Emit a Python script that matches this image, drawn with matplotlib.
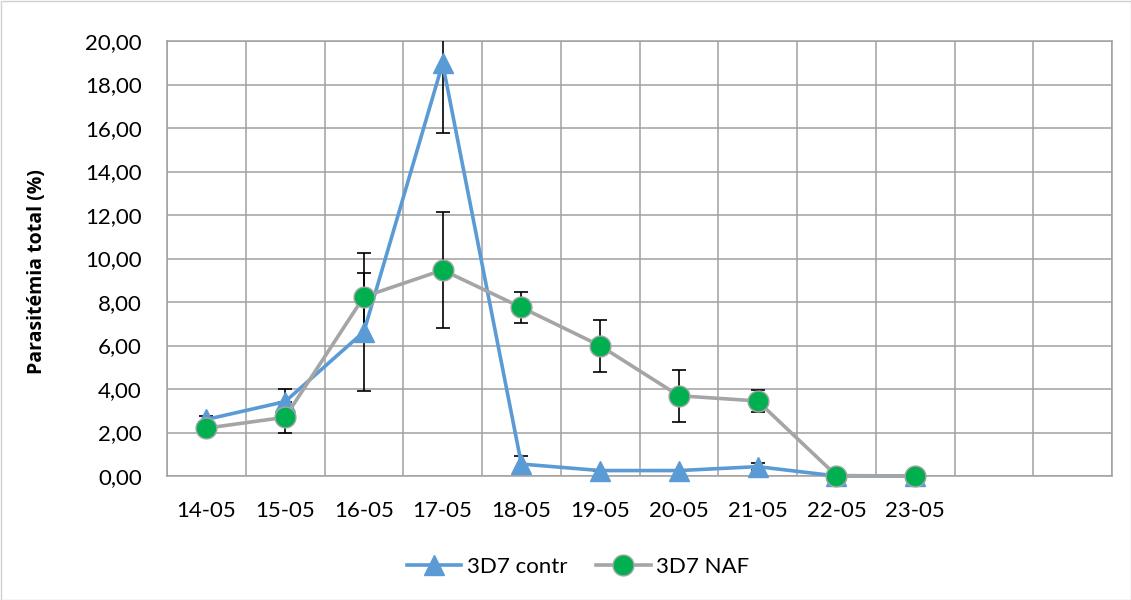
import matplotlib
matplotlib.use("Agg")
import matplotlib.pyplot as plt
from matplotlib.ticker import FuncFormatter, MultipleLocator
from matplotlib.patches import Rectangle

categories = ["14-05", "15-05", "16-05", "17-05", "18-05", "19-05", "20-05",
              "21-05", "22-05", "23-05", "", ""]
contr = [2.60, 3.42, 6.63, 18.97, 0.55, 0.25, 0.25, 0.43, 0.0, 0.0]
contr_err = [0.15, 0.60, 2.70, 3.20, 0.35, 0.0, 0.0, 0.15, 0.0, 0.0]
naf = [2.20, 2.70, 8.24, 9.47, 7.75, 5.99, 3.69, 3.45, 0.02, 0.0]
naf_err = [0.0, 0.70, 2.00, 2.65, 0.70, 1.20, 1.20, 0.52, 0.0, 0.0]

plt.rcParams['font.family'] = ['Lato', 'DejaVu Sans']
FS = 16

fig = plt.figure(figsize=(11.31, 6.0), dpi=100)
ax = fig.add_axes([167/1131, 1-476/600, (1112-167)/1131, (476-41)/600])

xs = list(range(len(contr)))
blue = "#5B9BD5"
grey = "#A5A5A5"
green = "#00B050"

ax.errorbar(xs, contr, yerr=contr_err, fmt='none', ecolor='black',
            elinewidth=1.2, capsize=5, capthick=1.2, zorder=3)
ax.errorbar(xs, naf, yerr=naf_err, fmt='none', ecolor='black',
            elinewidth=1.2, capsize=5, capthick=1.2, zorder=3)

ax.plot(xs, contr, color=blue, lw=2.6, marker='^', markersize=15,
        markerfacecolor=blue, markeredgecolor=blue, label="3D7 contr",
        zorder=4, clip_on=False)
ax.plot(xs, naf, color=grey, lw=2.6, marker='o', markersize=15,
        markerfacecolor=green, markeredgecolor=grey, markeredgewidth=1,
        label="3D7 NAF", zorder=5, clip_on=False)

ax.set_xlim(-0.5, len(categories) - 0.5)
ax.set_ylim(0, 20)
ax.yaxis.set_major_locator(MultipleLocator(2))
ax.yaxis.set_major_formatter(FuncFormatter(lambda v, p: f"{v:.2f}".replace('.', ',')))
ax.set_xticks(range(len(categories)))
ax.set_xticklabels(categories)
ax.set_xticks([i - 0.5 for i in range(len(categories) + 1)], minor=True)
ax.tick_params(axis='x', which='both', length=0, pad=18, labelsize=FS)
ax.tick_params(axis='y', length=0, pad=18, labelsize=FS)

ax.grid(True, which='minor', axis='x', color='#A0A0A0', lw=1.1)
ax.grid(True, which='major', axis='y', color='#A0A0A0', lw=1.1)
ax.set_axisbelow(True)
for s in ax.spines.values():
    s.set_color('#A0A0A0')
    s.set_linewidth(1.1)

fig.text(37/1131, 1-272/600, "Parasitémia total (%)", rotation=90,
         ha='center', va='center', fontsize=14, fontweight='bold',
         family=['Open Sans', 'DejaVu Sans'])

ax.legend(loc='center', bbox_to_anchor=(578/1131, 1-567/600),
          bbox_transform=fig.transFigure, ncol=2, frameon=False,
          fontsize=FS, handlelength=2.45, columnspacing=1.3, handletextpad=0.25)

fig.patches.append(Rectangle((0.5/1131, 0.5/600), 1-1/1131, 1-1/600,
                             transform=fig.transFigure, fill=False,
                             edgecolor='#D0D0D0', lw=1))

fig.savefig("out.png", dpi=100)
